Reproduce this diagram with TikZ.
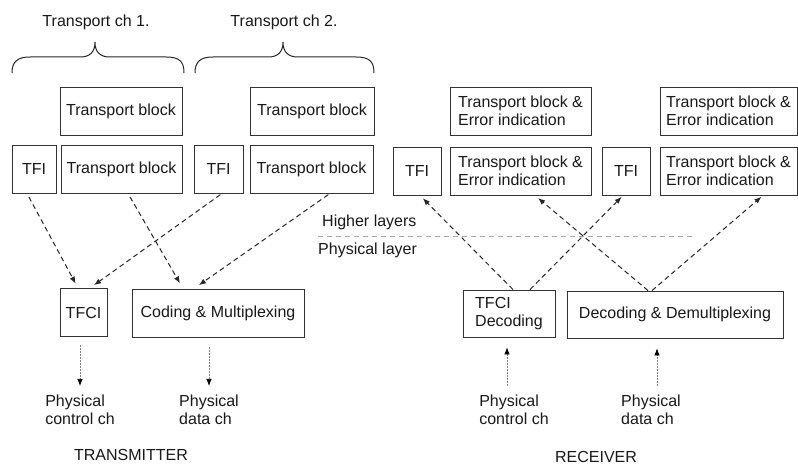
\documentclass[tikz,border=0pt]{standalone}
\usepackage{fontspec}
\setmainfont{Liberation Sans}
\usetikzlibrary{arrows.meta,calc}
\begin{document}
\begin{tikzpicture}[x=1pt,y=-1pt,
  every node/.style={font=\fontsize{16}{18}\selectfont, text=black!90},
  box/.style={draw=black!80, line width=0.9pt, minimum height=48pt, inner sep=2pt},
  tbox/.style={box, align=left},
  lbl/.style={align=left, inner sep=2pt},
  darr/.style={draw=black!85, line width=1pt, dash pattern=on 5pt off 3.5pt, -{Latex[length=7pt,width=5.5pt]}},
  varr/.style={draw=black!50, line width=0.7pt, dash pattern=on 2pt off 1pt, -{Latex[length=7pt,width=5.5pt,black]}},
  brc/.style={draw=black!85, line width=1pt}]
\useasboundingbox (0,0) rectangle (798,465);
\fill[white] (0,0) rectangle (798,465);

% titles and braces
\node (tc1) at (96,22) {Transport ch 1.};
\node (tc2) at (284,22) {Transport ch 2.};
\draw[brc] (12,73) .. controls (12,62) and (17,57) .. (30,57) -- (80,57)
  .. controls (90,57) and (95,52) .. (95,42)
  .. controls (95,52) and (100,57) .. (110,57) -- (166,57)
  .. controls (180,57) and (184,62) .. (184,73);
\draw[brc] (195,73) .. controls (195,62) and (200,57) .. (213,57) -- (268,57)
  .. controls (278,57) and (283,52) .. (283,42)
  .. controls (283,52) and (288,57) .. (298,57) -- (356,57)
  .. controls (370,57) and (374,62) .. (374,73);

% transmitter upper boxes
\node[box, minimum width=122pt] (tb1t) at (121,111) {Transport block};
\node[box, minimum width=124pt] (tb2t) at (312,111) {Transport block};
\node[box, minimum width=44pt] (tfi1) at (34,169) {TFI};
\node[box, minimum width=121pt] (tb1) at (121.5,169) {Transport block};
\node[box, minimum width=49pt] (tfi2) at (218.5,169) {TFI};
\node[box, minimum width=123pt] (tb2) at (311.5,169) {Transport block};

% receiver upper boxes
\node[tbox, minimum width=141pt] (rtb1t) at (520.5,111) {Transport block \&\\Error indication};
\node[tbox, minimum width=137pt] (rtb2t) at (728.5,111) {Transport block \&\\Error indication};
\node[box, minimum width=48pt] (rtfi1) at (417,171) {TFI};
\node[tbox, minimum width=141pt] (rtb1) at (520.5,171) {Transport block \&\\Error indication};
\node[box, minimum width=48pt] (rtfi2) at (626,171) {TFI};
\node[tbox, minimum width=137pt] (rtb2) at (728.5,171) {Transport block \&\\Error indication};

% layer separation
\node[anchor=west, inner sep=0pt] (hl) at (322,222) {Higher layers};
\node[anchor=west, inner sep=0pt] (pl) at (318,250) {Physical layer};
\draw[draw=black!35, line width=0.8pt, dash pattern=on 5pt off 4pt] (318,236) -- (695,236);

% lower boxes
\node[box, minimum width=47pt] (tfci) at (83.5,312.5) {TFCI};
\node[box, minimum width=172pt] (cm) at (218,313) {Coding \& Multiplexing};
\node[tbox, minimum width=92pt, minimum height=47pt] (tfcid) at (509,313.5) {TFCI\\Decoding};
\node[box, minimum width=216pt, minimum height=47pt] (ddm) at (675,314.5) {Decoding \& Demultiplexing};

% channel labels
\node[lbl] (ptc) at (80,410) {Physical\\control ch};
\node[lbl] (ptd) at (209,410) {Physical\\data ch};
\node[lbl] (prc) at (514,410) {Physical\\control ch};
\node[lbl] (prd) at (651,410) {Physical\\data ch};
\node (tx) at (131,455) {TRANSMITTER};
\node (rx) at (596,457) {RECEIVER};

% transmitter arrows
\draw[darr, shorten <=4pt, shorten >=5pt] ([xshift=-7pt]tfi1.south) -- ([xshift=-5.5pt]tfci.north);
\draw[darr, shorten <=4pt, shorten >=6pt] ([xshift=6.5pt]tb1.south) -- ([xshift=-35pt]cm.north);
\draw[darr, shorten <=2pt, shorten >=5pt] ([xshift=3.5pt]tfi2.south) -- ([xshift=6.5pt]tfci.north);
\draw[darr, shorten <=2pt, shorten >=6pt] ([xshift=18.5pt]tb2.south) -- ([xshift=-24pt]cm.north);

% receiver arrows
\draw[darr, shorten >=4pt] ([xshift=4pt]tfcid.north) -- ([xshift=3pt]rtfi1.south);
\draw[darr, shorten >=2pt] ([xshift=21pt]tfcid.north) -- ([xshift=-3pt]rtfi2.south);
\draw[darr, shorten >=4pt] ([xshift=-27pt]ddm.north) -- ([xshift=14.5pt]rtb1.south);
\draw[darr, shorten >=2pt] ([xshift=-23pt]ddm.north) -- ([xshift=34.5pt]rtb2.south);

% physical channel arrows
\draw[varr, shorten <=8pt, shorten >=7pt] (ptc.north |- tfci.south) -- (ptc.north);
\draw[varr, shorten <=10pt, shorten >=7pt] (ptd.north |- cm.south) -- (ptd.north);
\draw[varr, shorten <=7pt, shorten >=10pt] ([xshift=-2pt]tfcid.south |- prc.north) -- ([xshift=-2pt]tfcid.south);
\draw[varr, shorten <=7pt, shorten >=10pt] ([xshift=6pt]prd.north) -- ([xshift=6pt]prd.north |- ddm.south);
\end{tikzpicture}
\end{document}
